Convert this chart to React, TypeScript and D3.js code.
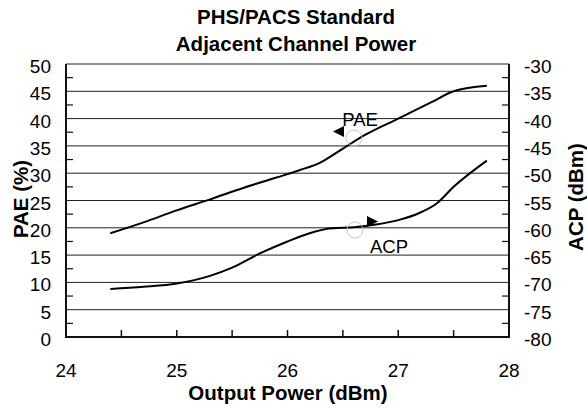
import React from 'react';
import * as d3 from 'd3';

// values
const paeX = [24.4, 24.7, 25.0, 25.3, 25.6, 25.9, 26.1, 26.3, 26.5, 26.7, 27.0, 27.3, 27.5, 27.8];
const paeY = [19.0, 21.0, 23.2, 25.2, 27.3, 29.2, 30.5, 32.0, 34.5, 37.0, 40.0, 43.0, 45.0, 46.0];

const acpX = [24.4, 24.7, 25.0, 25.3, 25.5, 25.75, 26.0, 26.2, 26.4, 26.6, 26.8, 27.0, 27.2, 27.35, 27.5, 27.8];
const acpY = [-71.2, -70.8, -70.2, -68.8, -67.3, -64.7, -62.5, -61.0, -60.1, -59.9, -59.4, -58.6, -57.2, -55.5, -52.5, -47.7];

const xTicks = [24, 25, 26, 27, 28];
const leftTicks = [0, 5, 10, 15, 20, 25, 30, 35, 40, 45, 50];
const rightTicks = [-80, -75, -70, -65, -60, -55, -50, -45, -40, -35, -30];

const W = 587;
const H = 408;
const font = 'Liberation Sans, Arial, Helvetica, sans-serif';

export default function App() {
  const left = 66, right = 509, top = 64, bottom = 337;

  const x = d3.scaleLinear().domain([24, 28]).range([left, right]);
  const yL = d3.scaleLinear().domain([0, 50]).range([bottom, top]);
  const yR = d3.scaleLinear().domain([-80, -30]).range([bottom, top]);

  const paeLine = d3.line<number>()
    .x((_, i) => x(paeX[i]))
    .y(d => yL(d))
    .curve(d3.curveMonotoneX);
  const acpLine = d3.line<number>()
    .x((_, i) => x(acpX[i]))
    .y(d => yR(d))
    .curve(d3.curveMonotoneX);

  const minorY = d3.range(2.5, 50, 5);
  const minorX = d3.range(24.5, 28, 0.5);

  return (
    <div style={{ position: 'absolute', left: 0, top: 0 }}>
      <svg width={W} height={H} style={{ display: 'block', background: '#fff' }} fontFamily={font}>
        {/* title */}
        <text x={296} y={24} textAnchor="middle" fontSize={20.5} fontWeight="bold">PHS/PACS Standard</text>
        <text x={296} y={51} textAnchor="middle" fontSize={20.5} fontWeight="bold">Adjacent Channel Power</text>

        {/* gridlines */}
        {leftTicks.slice(1, -1).map(t => (
          <line key={'g' + t} x1={left} x2={right} y1={yL(t)} y2={yL(t)} stroke="#222" strokeWidth={1} />
        ))}
        <line x1={left} x2={right} y1={top} y2={top} stroke="#222" strokeWidth={1.2} />

        {/* minor ticks */}
        {minorY.map(t => (
          <g key={'m' + t}>
            <line x1={left} x2={left + 7} y1={yL(t)} y2={yL(t)} stroke="#111" strokeWidth={1.2} />
            <line x1={right} x2={right - 7} y1={yL(t)} y2={yL(t)} stroke="#111" strokeWidth={1.2} />
          </g>
        ))}
        {minorX.map(t => (
          <line key={'x' + t} x1={x(t)} x2={x(t)} y1={bottom} y2={bottom - 7} stroke="#111" strokeWidth={1.5} />
        ))}

        {/* frame */}
        <path d={`M${left},${top}V${bottom}H${right}V${top}`} fill="none" stroke="#111" strokeWidth={2} />

        {/* curves */}
        <path d={paeLine(paeY) || ''} fill="none" stroke="#000" strokeWidth={2} />
        <path d={acpLine(acpY) || ''} fill="none" stroke="#000" strokeWidth={2} />

        {/* annotations */}
        <circle cx={354} cy={138} r={8} fill="none" stroke="#bbb" strokeWidth={0.8} />
        <path d="M333,131.5 L344,126 L344,137 Z" fill="#000" />
        <text x={360} y={126} textAnchor="middle" fontSize={18.5}>PAE</text>

        <circle cx={355} cy={230} r={8} fill="none" stroke="#bbb" strokeWidth={0.8} />
        <path d="M378,221.5 L367,216 L367,227 Z" fill="#000" />
        <text x={389} y={253} textAnchor="middle" fontSize={18.5}>ACP</text>

        {/* tick labels */}
        {leftTicks.map(t => (
          <text key={'l' + t} x={51} y={yL(t) + 9} textAnchor="end" fontSize={19}>{t}</text>
        ))}
        {rightTicks.map(t => (
          <text key={'r' + t} x={524} y={yR(t) + 9} textAnchor="start" fontSize={19}>{t}</text>
        ))}
        {xTicks.map(t => (
          <text key={'t' + t} x={x(t)} y={377} textAnchor="middle" fontSize={19}>{t}</text>
        ))}

        {/* axis titles */}
        <text x={288} y={400} textAnchor="middle" fontSize={20.5} fontWeight="bold">Output Power (dBm)</text>
        <text transform={`translate(28,199) rotate(-90)`} textAnchor="middle" fontSize={20.5} fontWeight="bold">PAE (%)</text>
        <text transform={`translate(583,197) rotate(-90)`} textAnchor="middle" fontSize={20.5} fontWeight="bold">ACP (dBm)</text>
      </svg>
    </div>
  );
}
